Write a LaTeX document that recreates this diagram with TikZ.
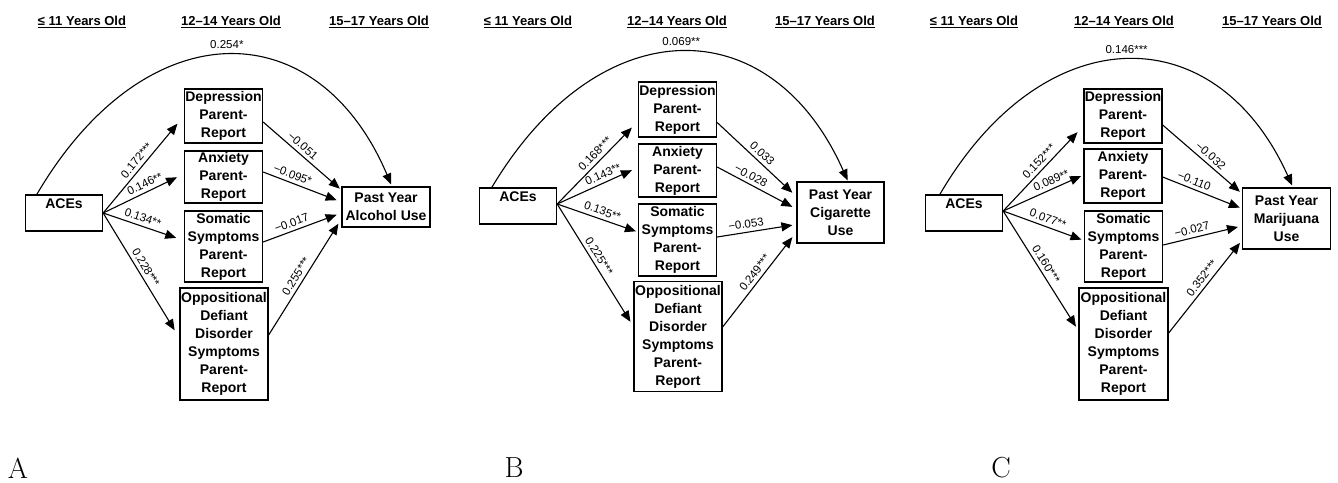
\documentclass[tikz,border=0pt]{standalone}
\usepackage{fontspec}
\newfontfamily\arial{Liberation Sans}
\usetikzlibrary{arrows.meta}
\tikzset{
  box/.style={draw, line width=1.3pt, align=center, inner sep=0pt,
    font=\arial\bfseries\fontsize{14}{18}\selectfont},
  hdr/.style={inner sep=0pt, font=\arial\bfseries\fontsize{13}{15}\selectfont},
  uline/.style={line width=1.1pt},
  arr/.style={line width=1.1pt, -{Triangle[length=11pt,width=9pt]}},
  coef/.style={sloped, above=1.5pt, inner sep=2pt, font=\arial\fontsize{11.5}{13}\selectfont},
  toplab/.style={above=4pt, inner sep=2pt, font=\arial\fontsize{11.5}{13}\selectfont},
  letter/.style={font=\fontsize{29}{34}\selectfont, inner sep=0pt},
}
\begin{document}
\begin{tikzpicture}[x=1pt,y=-1pt]
\useasboundingbox (0,0) rectangle (1338,482);

% headers
\foreach \nm/\xx/\tt in {hA1/82/{≤ 11 Years Old},hA2/231/{12–14 Years Old},hA3/379/{15–17 Years Old},
  hB1/528/{≤ 11 Years Old},hB2/677/{12–14 Years Old},hB3/825/{15–17 Years Old},
  hC1/974/{≤ 11 Years Old},hC2/1124/{12–14 Years Old},hC3/1272/{15–17 Years Old}}{
  \node[hdr] (\nm) at (\xx,21) {\tt};
  \draw[uline] ([yshift=-2.2pt]\nm.base west) -- ([yshift=-2.2pt]\nm.base east);
}

% panel letters
\node[letter] (lA) at (18,468) {A};
\node[letter] (lB) at (514,468) {B};
\node[letter] (lC) at (1001,468) {C};

% ---------------- Panel A ----------------
\node[box, minimum width=77, minimum height=36] (acesA) at (64,213) {ACEs\\\mbox{}};
\node[box, minimum width=78, minimum height=54] (depA) at (223.5,116) {Depression\\Parent-\\Report};
\node[box, minimum width=78, minimum height=52] (anxA) at (223.5,177) {Anxiety\\Parent-\\Report};
\node[box, minimum width=78, minimum height=71] (somA) at (223.5,246.5) {Somatic\\Symptoms\\Parent-\\Report};
\node[box, minimum width=88, minimum height=112] (oddA) at (224,344) {Oppositional\\Defiant\\Disorder\\Symptoms\\Parent-\\Report};
\node[box, minimum width=88, minimum height=40] (pastA) at (386,207) {Past Year\\Alcohol Use};

\draw[arr, shorten >=10pt] (acesA.east) -- (depA.west) node[coef, pos=0.49] {0.172***};
\draw[arr, shorten >=7.5pt] (acesA.east) -- ([yshift=3pt]anxA.west) node[coef, pos=0.56] {0.146**};
\draw[arr, shorten >=8pt] (acesA.east) -- ([yshift=6pt]somA.west) node[coef, pos=0.46] {0.134**};
\draw[arr, shorten >=9pt] (acesA.east) -- ([yshift=6pt]oddA.west) node[coef, pos=0.47] {0.228***};
\draw[arr, shorten >=2pt] ([yshift=-6pt]depA.east) -- ([yshift=17pt]pastA.west) node[coef, pos=0.44] {−0.051};
\draw[arr, shorten >=5pt] ([yshift=5pt]anxA.east) -- ([yshift=5pt]pastA.west) node[coef, pos=0.34] {−0.095*};
\draw[arr, shorten >=5pt] ([yshift=4.5pt]somA.east) -- ([yshift=-6pt]pastA.west) node[coef, pos=0.40] {−0.017};
\draw[arr, shorten >=5.5pt] ([yshift=9pt]oddA.east) -- ([yshift=-12pt]pastA.west) node[coef, pos=0.47] {0.255***};
\draw[arr, shorten >=2pt] ([xshift=12pt]acesA.north west) .. controls (145,10) and (317,10) .. ([xshift=6pt]pastA.north) node[toplab, pos=0.5] {0.254*};

% ---------------- Panel B ----------------
\begin{scope}[shift={(454,-7)}]
\node[box, minimum width=77, minimum height=36] (acesB) at (64,213) {ACEs\\\mbox{}};
\node[box, minimum width=78, minimum height=55] (depB) at (223.5,116.5) {Depression\\Parent-\\Report};
\node[box, minimum width=78, minimum height=53] (anxB) at (223.5,177.5) {Anxiety\\Parent-\\Report};
\node[box, minimum width=78, minimum height=72] (somB) at (223.5,247) {Somatic\\Symptoms\\Parent-\\Report};
\node[box, minimum width=88, minimum height=110] (oddB) at (224,343.5) {Oppositional\\Defiant\\Disorder\\Symptoms\\Parent-\\Report};
\node[box, minimum width=87, minimum height=61] (pastB) at (386.5,219.5) {Past Year\\Cigarette\\Use};

\draw[arr, shorten >=8.5pt] ([yshift=2pt]acesB.east) -- ([yshift=-12pt]depB.west) node[coef, pos=0.54] {0.168***};
\draw[arr, shorten >=6.5pt] ([yshift=2pt]acesB.east) -- ([yshift=3pt]anxB.west) node[coef, pos=0.61] {0.143**};
\draw[arr, shorten >=2pt] ([yshift=2pt]acesB.east) -- ([yshift=8pt]somB.west) node[coef, pos=0.53] {0.135**};
\draw[arr, shorten >=5.5pt] ([yshift=2pt]acesB.east) -- ([yshift=10pt]oddB.west) node[coef, pos=0.46] {0.225***};
\draw[arr, shorten >=5.5pt] ([yshift=-13pt]depB.east) -- ([yshift=16pt]pastB.west) node[coef, pos=0.50] {0.033};
\draw[arr, shorten >=4.5pt] ([yshift=3.5pt]anxB.east) -- ([yshift=3.5pt]pastB.west) node[coef, pos=0.38] {−0.028};
\draw[arr, shorten >=4pt] ([yshift=3pt]somB.east) -- ([yshift=-12pt]pastB.west) node[coef, pos=0.38] {−0.053};
\draw[arr, shorten >=6.5pt] ([yshift=9.5pt]oddB.east) -- ([yshift=-19.5pt]pastB.west) node[coef, pos=0.52] {0.249***};
\draw[arr, shorten >=1pt] ([xshift=13pt]acesB.north west) .. controls (145,14.7) and (317,14.7) .. ([xshift=7.5pt]pastB.north) node[toplab, pos=0.5] {0.069**};
\end{scope}

% ---------------- Panel C ----------------
\begin{scope}[shift={(899,0)}]
\node[box, minimum width=77, minimum height=36] (acesC) at (65,213) {ACEs\\\mbox{}};
\node[box, minimum width=78, minimum height=54] (depC) at (224,116) {Depression\\Parent-\\Report};
\node[box, minimum width=78, minimum height=54] (anxC) at (224,176) {Anxiety\\Parent-\\Report};
\node[box, minimum width=78, minimum height=71] (somC) at (224.5,246.5) {Somatic\\Symptoms\\Parent-\\Report};
\node[box, minimum width=89, minimum height=112] (oddC) at (224.5,344) {Oppositional\\Defiant\\Disorder\\Symptoms\\Parent-\\Report};
\node[box, minimum width=88, minimum height=61] (pastC) at (387.5,218.5) {Past Year\\Marijuana\\Use};

\draw[arr, shorten >=8.5pt] ([yshift=2pt]acesC.east) -- ([yshift=-10pt]depC.west) node[coef, pos=0.52] {0.152***};
\draw[arr, shorten >=2.5pt] ([yshift=2pt]acesC.east) -- ([yshift=1pt]anxC.west) node[coef, pos=0.64] {0.089**};
\draw[arr, shorten >=2.5pt] ([yshift=2pt]acesC.east) -- ([yshift=6pt]somC.west) node[coef, pos=0.52] {0.077**};
\draw[arr, shorten >=4.5pt] ([yshift=2pt]acesC.east) -- ([yshift=13.5pt]oddC.west) node[coef, pos=0.48] {0.160***};
\draw[arr, shorten >=2.6pt] ([yshift=-9pt]depC.east) -- ([yshift=25pt]pastC.west) node[coef, pos=0.54] {−0.032};
\draw[arr, shorten >=2.2pt] ([yshift=-1pt]anxC.east) -- ([yshift=10pt]pastC.west) node[coef, pos=0.36] {−0.110};
\draw[arr, shorten >=4pt] ([yshift=1.5pt]somC.east) -- ([yshift=-7.5pt]pastC.west) node[coef, pos=0.39] {−0.027};
\draw[arr, shorten >=3pt] ([yshift=11pt]oddC.east) -- ([yshift=-22pt]pastC.west) node[coef, pos=0.54] {0.352***};
\draw[arr, shorten >=2pt] ([xshift=15pt]acesC.north west) .. controls (145,16.2) and (317,16.2) .. ([xshift=6.5pt]pastC.north) node[toplab, pos=0.5] {0.146***};
\end{scope}
\end{tikzpicture}
\end{document}
